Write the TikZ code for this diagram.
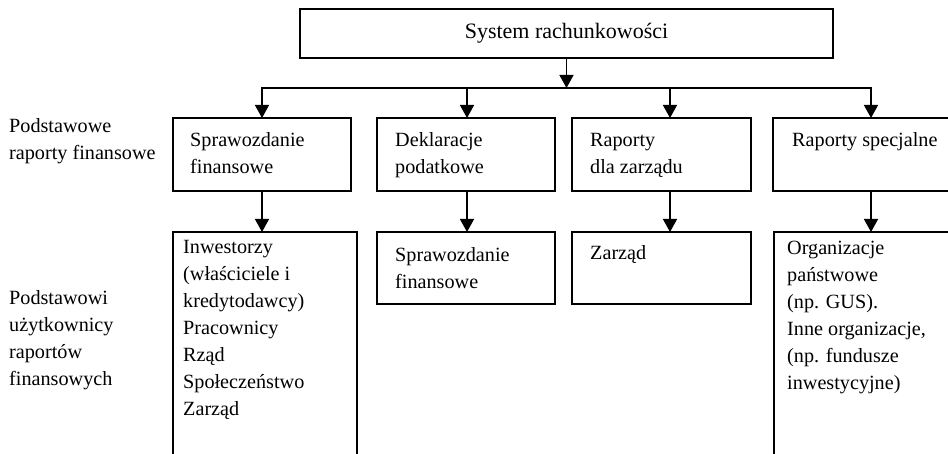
\documentclass[tikz,border=0pt]{standalone}
\usepackage{fontspec}
\setmainfont{Liberation Serif}
\usetikzlibrary{arrows.meta}

% left-aligned block of lines whose baseline is that of its first line
\newcommand\textlines[1]{\begin{tabular}[t]{@{}l@{}}#1\end{tabular}}

\begin{document}
\begin{tikzpicture}[x=1pt,y=-1pt,
  boxframe/.style={draw, line width=1.4pt, rectangle, inner sep=0pt, outer sep=0pt},
  txt/.style={anchor=base west, inner sep=0pt,
              font=\fontsize{20.2}{27}\selectfont},
  arrowline/.style={line width=1.4pt, -{Triangle[width=14pt,length=13pt]}},
]
\useasboundingbox (0,0) rectangle (948,454);
\clip (0,0) rectangle (948,454);

% top box
\node[boxframe, minimum width=533pt, minimum height=49pt,
      font=\fontsize{22}{27}\selectfont] (sys) at (566.5,33.5) {System rachunkowości};

% distribution line
\coordinate (t1) at (262,88);
\coordinate (t2) at (467,88);
\coordinate (t3) at (670,88);
\coordinate (t4) at (871,88);

% first row: reports
\node[boxframe, minimum width=178pt, minimum height=73pt] (b1) at (262,154.5) {};
\node[boxframe, minimum width=178pt, minimum height=73pt] (b2) at (466,154.5) {};
\node[boxframe, minimum width=179pt, minimum height=73pt] (b3) at (661.5,154.5) {};
\node[boxframe, minimum width=212pt, minimum height=73pt] (b4) at (879,154.5) {};

% second row: users
\node[boxframe, minimum width=184pt, minimum height=244pt] (u1) at (265,354) {};
\node[boxframe, minimum width=178pt, minimum height=72pt] (u2) at (466,268) {};
\node[boxframe, minimum width=179pt, minimum height=72pt] (u3) at (661.5,268) {};
\node[boxframe, minimum width=211pt, minimum height=244pt] (u4) at (879.5,354) {};

% side labels
\node[txt] (lrep) at (9,133) {\textlines{Podstawowe\\raporty finansowe}};
\node[txt] (lusr) at (9,305) {\textlines{Podstawowi\\użytkownicy\\raportów\\finansowych}};

% box texts
\node[txt] (tb1) at (190,147) {\textlines{Sprawozdanie\\finansowe}};
\node[txt] (tb2) at (395,147) {\textlines{Deklaracje\\podatkowe}};
\node[txt] (tb3) at (590,147) {\textlines{Raporty\\dla zarządu}};
\node[txt] (tb4) at (792,147) {Raporty specjalne};

\node[txt] (tu1) at (183,254) {\textlines{Inwestorzy\\(właściciele i\\kredytodawcy)\\Pracownicy\\Rząd\\Społeczeństwo\\Zarząd}};
\node[txt] (tu2) at (395,262) {\textlines{Sprawozdanie\\finansowe}};
\node[txt] (tu3) at (590,260) {Zarząd};
\node[txt] (tu4) at (787,255) {\textlines{Organizacje\\państwowe\\(np. GUS).\\Inne organizacje,\\(np. fundusze\\inwestycyjne)}};

% connectors
\draw[arrowline] (sys.south) -- (sys.south |- t1);
\draw[arrowline] (t4) -- (t1) -- (t1 |- b1.north);
\draw[arrowline] (t1) -- (t4) -- (t4 |- b4.north);
\draw[arrowline] (t2) -- (t2 |- b2.north);
\draw[arrowline] (t3) -- (t3 |- b3.north);

\draw[arrowline] (t1 |- b1.south) -- (t1 |- u1.north);
\draw[arrowline] (t2 |- b2.south) -- (t2 |- u2.north);
\draw[arrowline] (t3 |- b3.south) -- (t3 |- u3.north);
\draw[arrowline] (t4 |- b4.south) -- (t4 |- u4.north);
\end{tikzpicture}
\end{document}
